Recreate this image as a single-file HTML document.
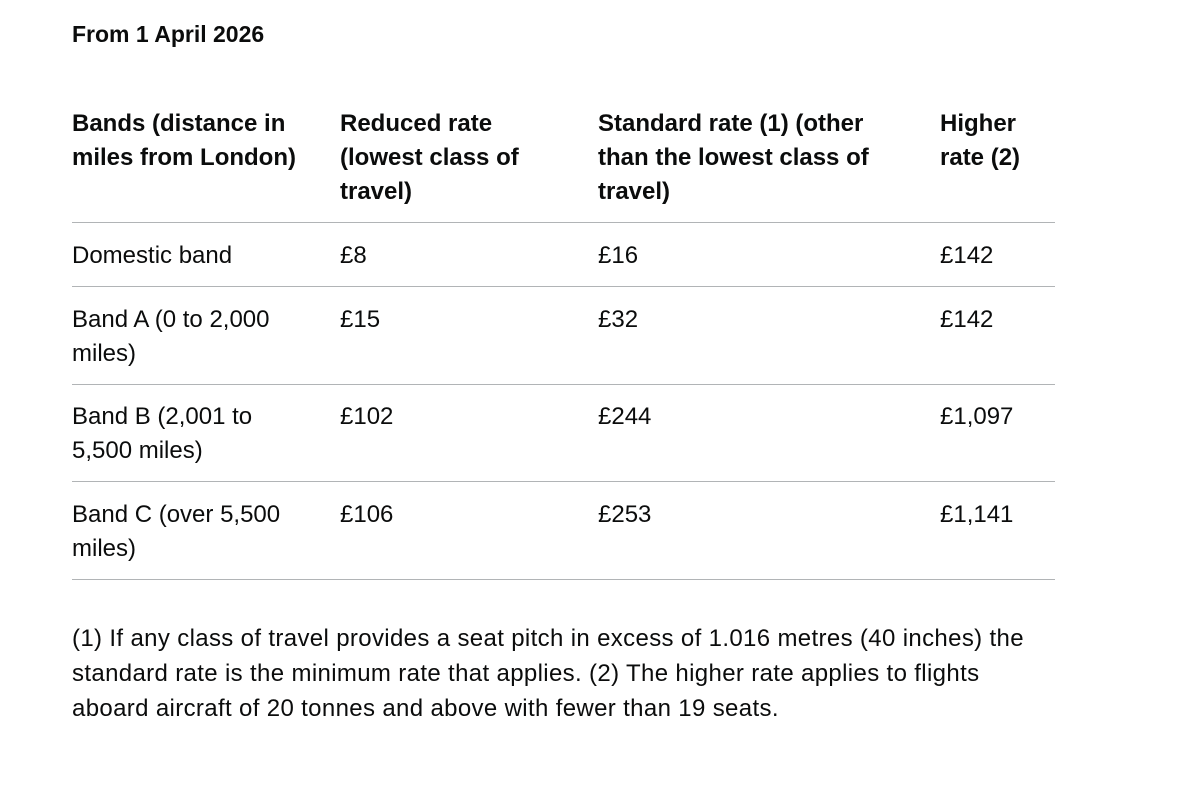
<!DOCTYPE html>
<html><head><meta charset="utf-8"><style>
body{margin:0;width:1200px;height:800px;background:#fff;position:relative;font-family:"Liberation Sans",Arial,sans-serif;color:#0b0c0c;overflow:hidden}
.t{position:absolute;font-size:24px;line-height:34px;white-space:nowrap}
.b{font-weight:bold}
.l{position:absolute;left:72px;width:983px;height:1px;background:#b1b4b6}
</style></head><body>
<div class="t b" style="left:72px;top:17px;font-size:23px">From 1 April 2026</div>

<div class="t b" style="left:72px;top:107px">Bands (distance in<br>miles from London)</div>
<div class="t b" style="left:340px;top:107px">Reduced rate<br>(lowest class of<br>travel)</div>
<div class="t b" style="left:598px;top:107px">Standard rate (1) (other<br>than the lowest class of<br>travel)</div>
<div class="t b" style="left:940px;top:107px">Higher<br>rate (2)</div>
<div class="l" style="top:222px"></div>

<div class="t" style="left:72px;top:239px">Domestic band</div>
<div class="t" style="left:340px;top:239px">£8</div>
<div class="t" style="left:598px;top:239px">£16</div>
<div class="t" style="left:940px;top:239px">£142</div>
<div class="l" style="top:286px"></div>

<div class="t" style="left:72px;top:303px">Band A (0 to 2,000<br>miles)</div>
<div class="t" style="left:340px;top:303px">£15</div>
<div class="t" style="left:598px;top:303px">£32</div>
<div class="t" style="left:940px;top:303px">£142</div>
<div class="l" style="top:384px"></div>

<div class="t" style="left:72px;top:400px">Band B (2,001 to<br>5,500 miles)</div>
<div class="t" style="left:340px;top:400px">£102</div>
<div class="t" style="left:598px;top:400px">£244</div>
<div class="t" style="left:940px;top:400px">£1,097</div>
<div class="l" style="top:481px"></div>

<div class="t" style="left:72px;top:498px">Band C (over 5,500<br>miles)</div>
<div class="t" style="left:340px;top:498px">£106</div>
<div class="t" style="left:598px;top:498px">£253</div>
<div class="t" style="left:940px;top:498px">£1,141</div>
<div class="l" style="top:579px"></div>

<div class="t" style="left:72px;top:621px;line-height:35px;letter-spacing:0.35px">(1) If any class of travel provides a seat pitch in excess of 1.016 metres (40 inches) the<br>standard rate is the minimum rate that applies. (2) The higher rate applies to flights<br>aboard aircraft of 20 tonnes and above with fewer than 19 seats.</div>
</body></html>
